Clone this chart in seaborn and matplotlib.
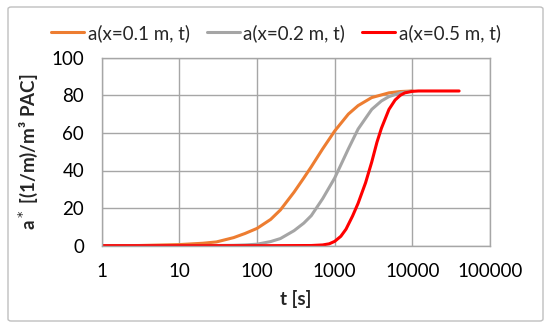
import numpy as np
import pandas as pd
import matplotlib
matplotlib.use("Agg")
import matplotlib.pyplot as plt
import seaborn as sns
from matplotlib.patches import FancyBboxPatch

# ---- data ----
t_01 = [1, 3, 10, 20, 30, 50, 70, 100, 150, 200, 300, 400, 500, 700, 1000, 1500, 2000, 3000, 5000, 7000, 10000]
a_01 = [0.0, 0.1, 0.6, 1.3, 2.0, 4.3, 6.5, 9.2, 14.0, 19.0, 28.5, 36.0, 42.0, 51.5, 61.0, 70.0, 74.5, 78.8, 81.3, 82.0, 82.3]

t_02 = [1, 10, 30, 50, 70, 100, 150, 200, 300, 400, 500, 700, 1000, 1250, 1500, 2000, 3000, 4000, 5000, 7000, 10000]
a_02 = [0.0, 0.0, 0.1, 0.2, 0.4, 0.8, 2.2, 3.8, 8.0, 12.0, 16.0, 25.0, 36.0, 44.5, 51.5, 62.0, 72.5, 77.0, 79.3, 81.3, 82.3]

t_05 = [1, 100, 500, 700, 850, 1000, 1200, 1400, 1700, 2000, 2500, 3000, 3500, 4000, 5000, 6000, 7000, 8000, 10000, 12000, 40000]
a_05 = [0.0, 0.0, 0.1, 0.4, 1.0, 2.3, 5.0, 8.8, 15.8, 22.5, 33.5, 44.5, 55.0, 62.5, 72.5, 77.5, 80.0, 81.3, 82.1, 82.3, 82.3]

series_labels = ["a(x=0.1 m, t)", "a(x=0.2 m, t)", "a(x=0.5 m, t)"]
x_ticks = [1, 10, 100, 1000, 10000, 100000]
x_tick_labels = ["1", "10", "100", "1000", "10000", "100000"]
y_ticks = [0, 20, 40, 60, 80, 100]

df = pd.concat([
    pd.DataFrame({"t": t_01, "a": a_01, "series": series_labels[0]}),
    pd.DataFrame({"t": t_02, "a": a_02, "series": series_labels[1]}),
    pd.DataFrame({"t": t_05, "a": a_05, "series": series_labels[2]}),
], ignore_index=True)

sns.set_style("white")
plt.rcParams["font.family"] = ["Lato", "DejaVu Sans"]

fig = plt.figure(figsize=(5.5, 3.29), dpi=100)
ax = fig.add_axes([101.7 / 550, 1 - 245.7 / 329, (490 - 101.7) / 550, (245.7 - 57.7) / 329])

palette = {series_labels[0]: "#ED7D31", series_labels[1]: "#A5A5A5", series_labels[2]: "#FF0000"}
sns.lineplot(data=df, x="t", y="a", hue="series", palette=palette, linewidth=2.2,
             ax=ax, sort=False, estimator=None, legend=True)

ax.set_xscale("log")
ax.set_xlim(1, 100000)
ax.set_ylim(0, 100)
ax.set_xticks(x_ticks)
ax.set_xticklabels(x_tick_labels)
ax.minorticks_off()
ax.set_yticks(y_ticks)

gc = "#A6A6A6"
ax.grid(True, color=gc, linewidth=1.0)
ax.set_axisbelow(True)
for s in ax.spines.values():
    s.set_color(gc)
    s.set_linewidth(1.0)
ax.tick_params(axis="both", which="major", direction="out", length=3.6, width=1.0,
               color=gc, labelsize=13.5, labelcolor="black")
ax.tick_params(axis="y", pad=9)
ax.tick_params(axis="x", pad=9)

ax.set_xlabel("t [s]", fontsize=13.5, fontweight="bold", labelpad=7)
ax.set_ylabel("a$^*$ [(1/m)/m³ PAC]", fontsize=13.5, fontweight="bold", labelpad=8)

leg = ax.legend(loc="lower center", bbox_to_anchor=(0.5 - 20 / 388, 1.0), ncol=3, frameon=False,
                fontsize=13.5, handlelength=1.76, handletextpad=0.2, columnspacing=0.9,
                borderaxespad=0.45)
for line in leg.get_lines():
    line.set_linewidth(2.2)

# figure border
border = FancyBboxPatch((8 / 550, 1 - 321 / 329), (543 - 8) / 550, (321 - 7) / 329,
                        boxstyle="round,pad=0,rounding_size=0.006", transform=fig.transFigure,
                        fill=False, edgecolor="#BFBFBF", linewidth=1.0)
fig.patches.append(border)

fig.savefig("out.png", dpi=100)
